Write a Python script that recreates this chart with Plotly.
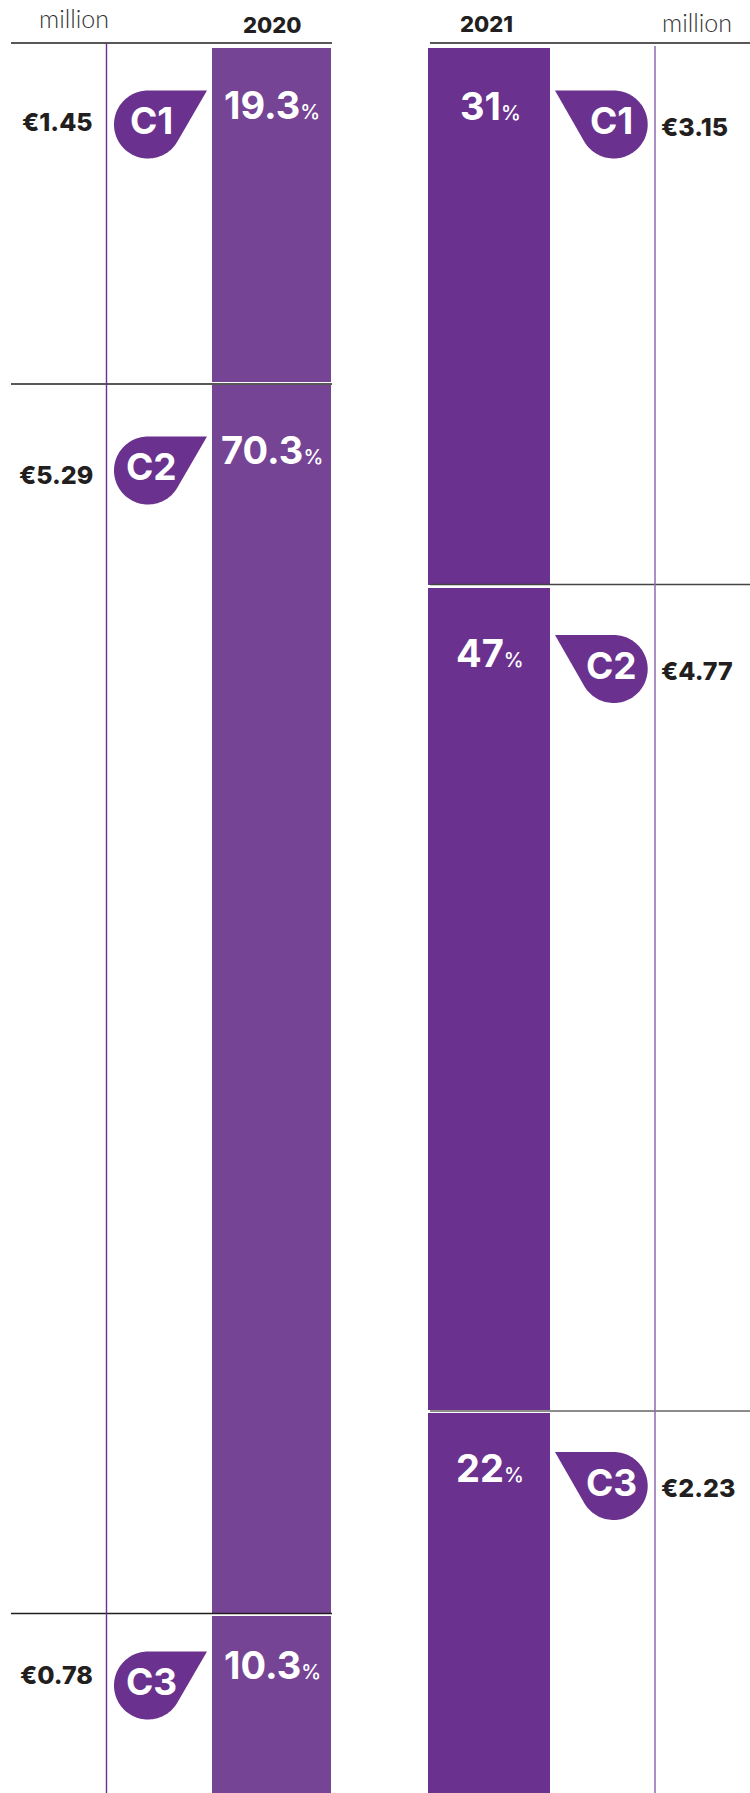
import numpy as np
import plotly.graph_objects as go

# ---- data ----
categories = ["C1", "C2", "C3"]
years = ["2020", "2021"]
unit = "million"
share_labels_2020 = ["19.3", "70.3", "10.3"]
share_labels_2021 = ["31", "47", "22"]
drawn_share_2020 = [19.3, 70.3, 10.3]
drawn_share_2021 = [30.9, 47.1, 22.0]
value_labels_2020 = ["€1.45", "€5.29", "€0.78"]
value_labels_2021 = ["€3.15", "€4.77", "€2.23"]

# ---- layout constants (pixels) ----
W, H = 750, 1793
TOP = 46
BAR_L = (212, 331)
BAR_R = (428, 550)
STROKE = 3
COL_2020 = "#764495"
COL_2021 = "#6a328e"
BADGE = "#6a318f"
INK = "#231f20"
FONT_B = "Inter"
FONT_L = "Lato"

def py(y):
    return 1 - y / H

fig = go.Figure()
xs = [(BAR_L[0] + BAR_L[1]) / 2, (BAR_R[0] + BAR_R[1]) / 2]
widths = [BAR_L[1] - BAR_L[0] + STROKE, BAR_R[1] - BAR_R[0] + STROKE]
for i, cat in enumerate(categories):
    fig.add_trace(go.Bar(
        x=xs, y=[drawn_share_2020[i], drawn_share_2021[i]], width=widths, name=cat,
        marker=dict(color=[COL_2020, COL_2021], line=dict(color="white", width=STROKE)),
        showlegend=False, hoverinfo="skip"))

shapes, ann = [], []

def hline(y, x0, x1, color=INK, w=1.3):
    shapes.append(dict(type="line", xref="x", yref="paper", x0=x0, x1=x1, y0=py(y), y1=py(y),
                       line=dict(color=color, width=w)))

def vline(x, y0, y1, color, w):
    shapes.append(dict(type="line", xref="x", yref="paper", x0=x, x1=x, y0=py(y0), y1=py(y1),
                       line=dict(color=color, width=w)))

def text(x, y, s, size, color=INK, anchor="center", font=FONT_B, weight=700):
    ann.append(dict(x=x, y=py(y), xref="x", yref="paper", text=s, showarrow=False,
                    xanchor=anchor, yanchor="middle", borderpad=0, align="center",
                    font=dict(family=font, size=size, color=color, weight=weight)))

def badge(top, tip_x, cx, r=34):
    cy = top + r
    side = 1 if tip_x > cx else -1
    ang = 2 * np.arctan2(abs(top - cy), abs(tip_x - cx))
    t = np.linspace(0, np.pi + ang, 80)
    px_ = cx - side * r * np.sin(t)
    py_ = cy - r * np.cos(t)
    pts = [(tip_x, top)] + list(zip(px_, py_))
    path = "M" + " L".join(f"{a / W:.5f},{py(b):.5f}" for a, b in pts) + " Z"
    shapes.append(dict(type="path", xref="paper", yref="paper", path=path,
                       fillcolor=BADGE, line=dict(width=0)))

def share(s, pct=20):
    return f'{s}<span style="font-size:{pct}px;font-weight:500">%</span>'

# rules
hline(43, 11, 332)
hline(384, 11, 332)
hline(1613.5, 11, 332)
hline(43, 430, W)
hline(584.5, 430, W, "#444444")
hline(1411, 430, W, "#666666", 1.5)
vline(106.5, 43, H, "#6a318f", 1.4)
vline(655, 46, H, "#8f69ae", 1.5)

# headers
text(74, 18, unit, 25, "#333333", font=FONT_L, weight=300)
text(272, 25, years[0], 22, weight=800)
text(486, 24, years[1], 22, weight=800)
text(697, 22, unit, 25, "#333333", font=FONT_L, weight=300)

# 2020 column
badge_tops_l = [90.5, 436.5, 1651.5]
share_y_l = [105, 450, 1665]
value_y_l = [122, 475, 1675]
for i, cat in enumerate(categories):
    badge(badge_tops_l[i], 207, 148)
    text(151, badge_tops_l[i] + 30, cat, 37, "white", weight=700)
    text(272, share_y_l[i], share(share_labels_2020[i]), 38, "white")
    text(94, value_y_l[i], value_labels_2020[i], 25, anchor="right", weight=800)

# 2021 column
badge_tops_r = [90.5, 635, 1452]
share_y_r = [106, 653, 1468]
value_y_r = [127, 671, 1488]
for i, cat in enumerate(categories):
    badge(badge_tops_r[i], 555, 613.7)
    text(611, badge_tops_r[i] + 30, cat, 37, "white", weight=700)
    text(490, share_y_r[i], share(share_labels_2021[i]), 38, "white")
    text(660, value_y_r[i], value_labels_2021[i], 25, anchor="left", weight=800)

fig.update_layout(
    width=W, height=H, margin=dict(l=0, r=0, t=0, b=0, pad=0), autosize=False,
    barmode="stack", paper_bgcolor="white", plot_bgcolor="white", showlegend=False,
    xaxis=dict(range=[0, W], visible=False, fixedrange=True),
    yaxis=dict(range=[99.8, 0], domain=[0, 1 - TOP / H], visible=False, fixedrange=True),
    shapes=shapes, annotations=ann)

fig.write_html("out.html", config=dict(displayModeBar=False),
               post_script="document.body.style.margin='0';document.body.style.overflow='hidden';")
